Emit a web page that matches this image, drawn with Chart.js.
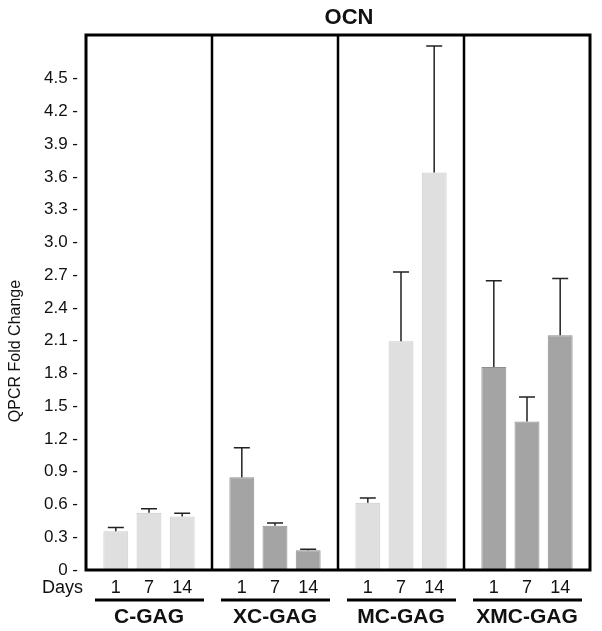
<!DOCTYPE html>
<html>
<head>
<meta charset="utf-8">
<script src="https://cdn.jsdelivr.net/npm/chart.js@4"></script>
<style>
  html, body { margin: 0; padding: 0; background: #fff; }
  #wrap { width: 602px; height: 631px; }
</style>
</head>
<body>
<div id="wrap"><canvas id="myChart" width="602" height="631"></canvas></div>
<script>
// data
const groups = ['C-GAG', 'XC-GAG', 'MC-GAG', 'XMC-GAG'];
const days = ['1', '7', '14'];
const day1 = [0.355, 0.85, 0.615, 1.86];
const day7 = [0.525, 0.405, 2.095, 1.36];
const day14 = [0.49, 0.18, 3.64, 2.15];
// upper error (SD) for each bar
const err1 = [0.035, 0.27, 0.045, 0.79];
const err7 = [0.035, 0.025, 0.635, 0.225];
const err14 = [0.03, 0.01, 1.16, 0.52];
const yTicks = [0, 0.3, 0.6, 0.9, 1.2, 1.5, 1.8, 2.1, 2.4, 2.7, 3.0, 3.3, 3.6, 3.9, 4.2, 4.5];

const means = [day1, day7, day14];
const errs = [err1, err7, err14];

// light bars for C / MC, darker for the crosslinked ones
const fillColors = ['#dfdfdf', '#a4a4a4', '#dfdfdf', '#a4a4a4'];
const edgeColors = ['#c9c9c9', '#8e8e8e', '#c9c9c9', '#8e8e8e'];

const FONT = 'Liberation Sans, Arial, Helvetica, sans-serif';

// error whiskers (upper only)
const errorBars = {
    id: 'errorBars',
    afterDatasetsDraw(chart) {
        const c = chart.ctx;
        const y = chart.scales.y;
        c.save();
        c.strokeStyle = '#222';
        c.lineWidth = 1.5;
        means.forEach((vals, i) => {
            chart.getDatasetMeta(i).data.forEach((bar, j) => {
                const top = y.getPixelForValue(vals[j] + errs[i][j]);
                c.beginPath();
                c.moveTo(bar.x, bar.y);
                c.lineTo(bar.x, top);
                c.moveTo(bar.x - 8, top);
                c.lineTo(bar.x + 8, top);
                c.stroke();
            });
        });
        c.restore();
    }
};

// frame, panel dividers, day labels, underlines, titles
const decorations = {
    id: 'decorations',
    afterDraw(chart) {
        const c = chart.ctx;
        const a = chart.chartArea;
        const x = chart.scales.x;
        const bounds = [a.left];
        for (let j = 0; j < groups.length - 1; j++) {
            bounds.push((x.getPixelForTick(j) + x.getPixelForTick(j + 1)) / 2);
        }
        bounds.push(a.right);

        c.save();
        c.strokeStyle = '#000';
        c.lineWidth = 3;
        c.strokeRect(a.left, a.top, a.right - a.left, a.bottom - a.top);
        c.lineWidth = 2.5;
        for (let j = 1; j < bounds.length - 1; j++) {
            c.beginPath();
            c.moveTo(bounds[j], a.top);
            c.lineTo(bounds[j], a.bottom);
            c.stroke();
        }

        // underline per group
        c.lineWidth = 3;
        for (let j = 0; j < groups.length; j++) {
            c.beginPath();
            c.moveTo(bounds[j] + 9, a.bottom + 30);
            c.lineTo(bounds[j + 1] - 8, a.bottom + 30);
            c.stroke();
        }

        // day labels under each bar
        c.fillStyle = '#111';
        c.font = '18px ' + FONT;
        c.textBaseline = 'middle';
        c.textAlign = 'center';
        days.forEach((d, i) => {
            chart.getDatasetMeta(i).data.forEach(bar => {
                c.fillText(d, bar.x, a.bottom + 18);
            });
        });
        c.textAlign = 'right';
        c.fillText('Days', 83, a.bottom + 18);

        // y axis title, sits lower than the plot centre in the original
        c.save();
        c.translate(16, 351);
        c.rotate(-Math.PI / 2);
        c.textAlign = 'center';
        c.font = '16px ' + FONT;
        c.fillText('QPCR Fold Change', 0, 0);
        c.restore();

        // title
        c.textAlign = 'center';
        c.font = 'bold 22px ' + FONT;
        c.fillText('OCN', 349, 18);
        c.restore();
    }
};

const ctx = document.getElementById('myChart').getContext('2d');

const myChart = new Chart(ctx, {
    type: 'bar',
    data: {
        labels: groups,
        datasets: days.map((d, i) => ({
            label: 'Day ' + d,
            data: means[i],
            backgroundColor: fillColors,
            borderColor: edgeColors,
            borderWidth: 1,
            categoryPercentage: 0.79,
            barPercentage: 0.75
        }))
    },
    options: {
        responsive: false,
        animation: false,
        layout: { padding: { left: 0, right: 12, top: 35, bottom: 0 } },
        scales: {
            y: {
                min: 0,
                max: 4.9,
                afterBuildTicks(scale) {
                    scale.ticks = yTicks.map(v => ({ value: v }));
                },
                afterFit(scale) { scale.width = 86; },
                grid: { display: false, drawTicks: false },
                border: { display: false },
                ticks: {
                    color: '#111',
                    padding: 8,
                    font: { family: FONT, size: 17 },
                    callback: v => (v === 0 ? '0' : v.toFixed(1)) + ' -'
                }
            },
            x: {
                afterFit(scale) {
                    scale.height = 61;
                    scale.paddingLeft = 0;
                    scale.paddingRight = 0;
                },
                grid: { display: false, drawTicks: false },
                border: { display: false },
                ticks: {
                    color: '#111',
                    padding: 35,
                    font: { family: FONT, size: 21, weight: 'bold' }
                }
            }
        },
        plugins: {
            legend: { display: false },
            tooltip: { enabled: false }
        }
    },
    plugins: [errorBars, decorations]
});
</script>
</body>
</html>
